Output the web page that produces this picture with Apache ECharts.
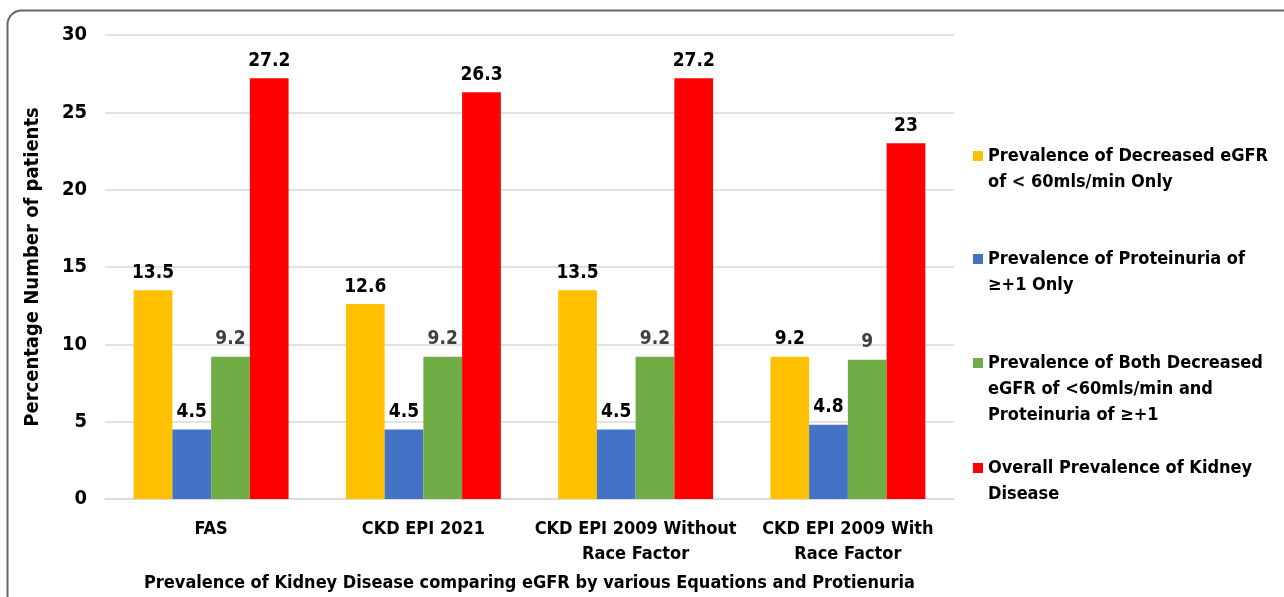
<!DOCTYPE html>
<html>
<head>
<meta charset="utf-8">
<script src="https://cdn.jsdelivr.net/npm/echarts@6/dist/echarts.min.js"></script>
<style>
  html, body { margin: 0; padding: 0; background: #fff; }
  #chart { width: 1284px; height: 597px; }
</style>
</head>
<body>
<div id="chart"></div>
<script>
const categories = ['FAS', 'CKD EPI 2021', 'CKD EPI 2009 Without\nRace Factor', 'CKD EPI 2009 With\nRace Factor']
const seriesNames = [
  'Prevalence of Decreased eGFR of < 60mls/min Only',
  'Prevalence of Proteinuria of ≥+1 Only',
  'Prevalence of Both Decreased eGFR of <60mls/min and Proteinuria of ≥+1',
  'Overall Prevalence of Kidney Disease'
]
const legendText = [
  'Prevalence of Decreased eGFR\nof < 60mls/min Only',
  'Prevalence of Proteinuria of\n≥+1 Only',
  'Prevalence of Both Decreased\neGFR of <60mls/min and\nProteinuria of ≥+1',
  'Overall Prevalence of Kidney\nDisease'
]
const decreasedEgfr = [13.5, 12.6, 13.5, 9.2]
const proteinuria = [4.5, 4.5, 4.5, 4.8]
const both = [9.2, 9.2, 9.2, 9]
const overall = [27.2, 26.3, 27.2, 23]
const yTicks = [0, 5, 10, 15, 20, 25, 30]

const colors = ['#ffc000', '#4472c4', '#70ad47', '#ff0000']
const labelColors = ['#000', '#000', '#404040', '#000']
const font = "'DejaVu Sans Condensed', 'DejaVu Sans', sans-serif"
const values = [decreasedEgfr, proteinuria, both, overall]

const chart = echarts.init(document.getElementById('chart'))

// legend icon sits on the first text line, so pad the text with blank lines above
const lineH = 26
const iconCenters = [156, 259, 363, 468]
const legends = legendText.map((txt, i) => {
  const lines = txt.split('\n')
  const padded = lines.slice(1).map(() => ' ').concat(lines).join('\n')
  const blockH = (2 * lines.length - 1) * lineH
  return {
    data: [seriesNames[i]],
    left: 973,
    top: iconCenters[i] - blockH / 2,
    padding: 0,
    orient: 'vertical',
    icon: 'rect',
    itemWidth: 10,
    itemHeight: 10,
    itemGap: 0,
    selectedMode: false,
    formatter: () => padded,
    textStyle: {
      fontFamily: font,
      fontWeight: 'bold',
      fontSize: 18,
      color: '#000',
      lineHeight: lineH
    }
  }
})

chart.setOption({
  animation: false,
  color: colors,
  graphic: [{
    type: 'rect',
    shape: { x: 7.5, y: 10.5, width: 1400, height: 700, r: 14 },
    style: { fill: 'none', stroke: '#666', lineWidth: 2 },
    silent: true
  }],
  legend: legends,
  grid: { left: 105, right: 330, top: 35, bottom: 98 },
  xAxis: {
    type: 'category',
    data: categories,
    axisTick: { show: false },
    axisLine: { lineStyle: { color: '#d9d9d9', width: 1.5 } },
    axisLabel: {
      fontFamily: font, fontWeight: 'bold', fontSize: 18, color: '#000',
      lineHeight: 25, margin: 18, interval: 0
    },
    name: 'Prevalence of Kidney Disease comparing eGFR by various Equations and Protienuria',
    nameLocation: 'middle',
    nameGap: 75,
    nameTextStyle: { fontFamily: font, fontWeight: 'bold', fontSize: 18, color: '#000' }
  },
  yAxis: {
    type: 'value',
    min: yTicks[0],
    max: yTicks[yTicks.length - 1],
    interval: 5,
    splitLine: { lineStyle: { color: '#d9d9d9', width: 1.5 } },
    axisLabel: {
      fontFamily: font, fontWeight: 'bold', fontSize: 20, color: '#000', margin: 18
    },
    name: 'Percentage Number of patients',
    nameLocation: 'middle',
    nameGap: 62,
    nameTextStyle: { fontFamily: font, fontWeight: 'bold', fontSize: 20, color: '#000' }
  },
  series: values.map((data, i) => ({
    name: seriesNames[i],
    type: 'bar',
    data,
    barGap: '0%',
    barCategoryGap: '27%',
    label: {
      show: true,
      position: 'top',
      distance: 8,
      fontFamily: font,
      fontWeight: 'bold',
      fontSize: 19,
      color: labelColors[i]
    }
  }))
})
</script>
</body>
</html>
